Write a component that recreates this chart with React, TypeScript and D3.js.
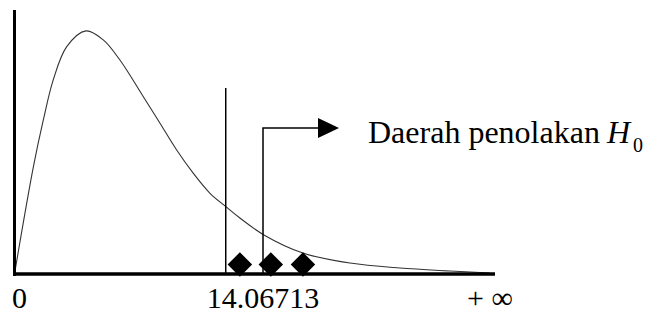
import React from 'react';
import * as d3 from 'd3';

// curve (chi-square units, density)
const curveX = [0, 1.25, 1.92, 2.58, 3.48, 4.76, 5.91, 7.02, 8.58, 9.69, 10.8, 11.9, 13.02, 14.08, 15.01, 16.61, 19.21, 22.34, 25.67, 29.0, 31.66];
const curveY = [0, 0.0535, 0.0773, 0.0974, 0.1141, 0.122, 0.1175, 0.1074, 0.089, 0.0757, 0.0622, 0.0506, 0.0405, 0.0338, 0.0281, 0.0196, 0.0105, 0.0055, 0.003, 0.0015, 0.0005];

const critical = 14.06713;
const arrowAt = 16.55;
const diamonds = [15.01, 17.07, 19.21];
const tickLabels = ['0', '14.06713', '+ \u221e'];
const regionLabel = 'Daerah penolakan';

const W = 645;
const H = 313;

const App = () => {
  const x = d3.scaleLinear().domain([0, 32]).range([14.5, 495]);
  const y = d3.scaleLinear().domain([0, 0.1325]).range([274, 10]);

  const pts: [number, number][] = curveX.map((v, i) => [v, curveY[i]]);
  const line = d3.line<[number, number]>()
    .x(d => x(d[0]))
    .y(d => y(d[1]))
    .curve(d3.curveCatmullRom.alpha(0.5));

  const diamond = d3.symbol().type(d3.symbolSquare).size(300)();

  const ax = x(arrowAt);
  const arrowY = 128;
  const font = '"Liberation Serif", "Times New Roman", serif';

  return (
    <svg width={W} height={H} style={{ position: 'absolute', left: 0, top: 0, background: '#fff' }}>
      {/* curve */}
      <path d={line(pts) || ''} fill="none" stroke="#333" strokeWidth={1.1} />

      {/* critical value line */}
      <line x1={x(critical)} x2={x(critical)} y1={88} y2={y(0)} stroke="#000" strokeWidth={1.5} />

      {/* arrow to rejection region */}
      <polyline points={`${ax},${y(0)} ${ax},${arrowY} ${ax + 56},${arrowY}`} fill="none" stroke="#000" strokeWidth={1.5} />
      <path d={`M${ax + 55},${arrowY - 10}L${ax + 76},${arrowY}L${ax + 55},${arrowY + 10}Z`} fill="#000" />

      {diamonds.map((d, i) => (
        <path key={i} d={diamond || ''} transform={`translate(${x(d)},${y(0) - 9.5}) rotate(45)`} fill="#000" />
      ))}

      {/* axes */}
      <line x1={x(0)} x2={x(0)} y1={10} y2={y(0) + 2} stroke="#000" strokeWidth={3} />
      <line x1={x(0) - 1.5} x2={x(32)} y1={y(0)} y2={y(0)} stroke="#000" strokeWidth={3.5} />

      {/* labels */}
      <g fontFamily={font} fill="#000">
        <text x={x(0) + 5} y={308} fontSize={30} textAnchor="middle">{tickLabels[0]}</text>
        <text x={ax} y={308} fontSize={30} textAnchor="middle">{tickLabels[1]}</text>
        <text x={467} y={308} fontSize={30}>{tickLabels[2]}</text>
        <text x={368} y={143} fontSize={32}>{regionLabel}</text>
        <text x={607} y={143} fontSize={32} fontStyle="italic">H</text>
        <text x={633} y={152} fontSize={20}>0</text>
      </g>
    </svg>
  );
};

export default App;
